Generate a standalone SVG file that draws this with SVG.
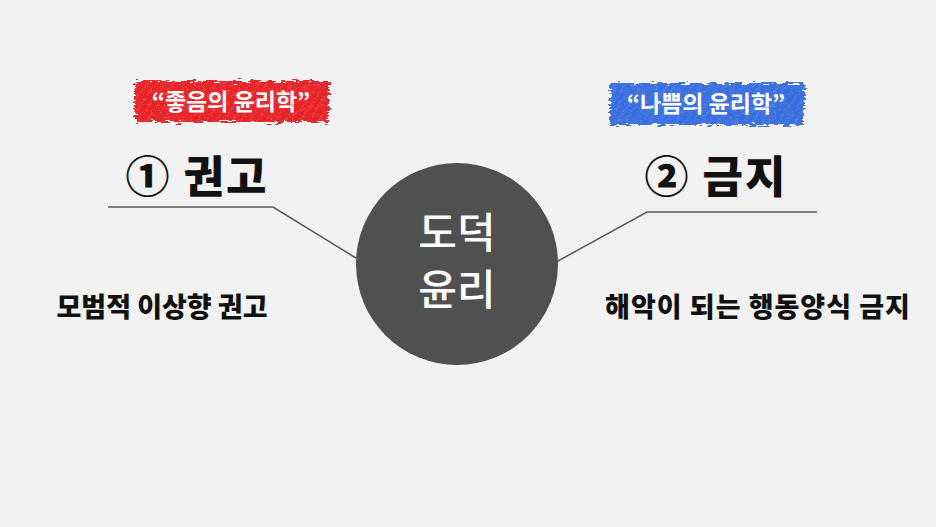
<svg xmlns="http://www.w3.org/2000/svg" width="936" height="527" viewBox="0 0 936 527">
<style>
.lbl{font-family:"Noto Sans CJK KR","Noto Sans",sans-serif;font-weight:700;fill:#fff;font-size:23px;text-anchor:middle}
.head{font-family:"Noto Sans CJK KR","Noto Sans",sans-serif;font-weight:900;fill:#111;font-size:44px;text-anchor:middle;letter-spacing:2px}
.desc{font-family:"Noto Sans CJK KR","Noto Sans",sans-serif;font-weight:900;fill:#111;font-size:27px;text-anchor:middle}
.core{font-family:"Noto Sans CJK KR","Noto Sans",sans-serif;font-weight:500;fill:#fff;font-size:42px;text-anchor:middle}
.conn{fill:none;stroke:#5a5a5a;stroke-width:1.5}
.hatch{stroke:#fff;stroke-opacity:0.25;stroke-width:1.2}
</style>
<defs>
<filter id="rough" x="-10%" y="-25%" width="120%" height="150%">
<feTurbulence type="fractalNoise" baseFrequency="0.12 0.5" numOctaves="2" seed="5" result="n"/>
<feDisplacementMap in="SourceGraphic" in2="n" scale="10" xChannelSelector="R" yChannelSelector="G"/>
</filter>
<pattern id="hatchP" width="7" height="7" patternUnits="userSpaceOnUse" patternTransform="rotate(35)">
<line class="hatch" x1="0" y1="0" x2="0" y2="7"/>
</pattern>
</defs>
<rect width="936" height="527" fill="#f2f2f2"/>
<g id="connectors">
<polyline class="conn" points="108,207 273,207 356,258"/>
<polyline class="conn" points="817,212 647,212 558,261"/>
</g>
<g id="label-good">
<g filter="url(#rough)">
<rect x="135" y="81" width="194" height="41" fill="#e8262b"/>
<rect x="135" y="81" width="194" height="41" fill="url(#hatchP)"/>
</g>
<text class="lbl" x="231" y="110">“좋음의 윤리학”</text>
</g>
<g id="label-bad">
<g filter="url(#rough)">
<rect x="610" y="83" width="194" height="42" fill="#3a6fe0"/>
<rect x="610" y="83" width="194" height="42" fill="url(#hatchP)"/>
</g>
<text class="lbl" x="706" y="112">“나쁨의 윤리학”</text>
</g>
<g id="head-1"><text class="head" x="197" y="193">① 권고</text></g>
<g id="head-2"><text class="head" x="716" y="193">② 금지</text></g>
<g id="center">
<circle cx="457" cy="264" r="101" fill="#505050"/>
<text class="core" x="457" y="248">도덕</text>
<text class="core" x="457" y="305">윤리</text>
</g>
<g id="desc-1"><text class="desc" x="162" y="317">모범적 이상향 권고</text></g>
<g id="desc-2"><text class="desc" x="758" y="317" letter-spacing="1">해악이 되는 행동양식 금지</text></g>
</svg>
